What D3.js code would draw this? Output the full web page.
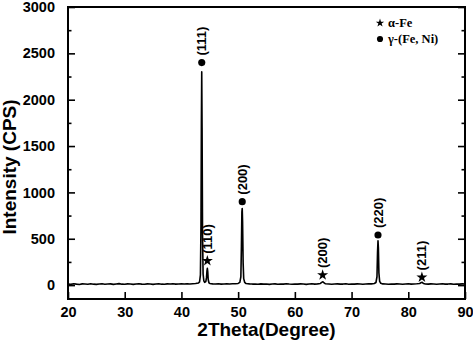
<!DOCTYPE html>
<html><head><meta charset="utf-8">
<script src="https://cdn.jsdelivr.net/npm/d3@7"></script>
<style>body{margin:0;background:#fff;}svg{display:block;}</style>
</head><body>
<svg id="c" width="473" height="353"></svg>
<script>
const twoTheta = [20,20.5,21,21.5,22,22.5,23,23.5,24,24.5,25,25.5,26,26.5,27,27.5,28,28.5,29,29.5,30,30.5,31,31.5,32,32.5,33,33.5,34,34.5,35,35.5,36,36.5,37,37.5,38,38.5,39,39.5,40,40.5,41,41.5,42,42.5,43,43.2,43.35,43.45,43.52,43.58,43.64,43.72,43.82,43.95,44.1,44.3,44.42,44.5,44.57,44.64,44.72,44.85,45,45.5,46,46.5,47,47.5,48,48.5,49,49.5,50,50.3,50.48,50.58,50.66,50.72,50.78,50.88,50.98,51.15,51.4,52,52.5,53,53.5,54,54.5,55,55.5,56,56.5,57,57.5,58,58.5,59,59.5,60,60.5,61,61.5,62,62.5,63,63.5,64,64.5,64.8,64.95,65.1,65.4,66,66.5,67,67.5,68,68.5,69,69.5,70,70.5,71,71.5,72,72.5,73,73.5,74,74.3,74.48,74.58,74.66,74.73,74.82,74.95,75.15,75.5,76,76.5,77,77.5,78,78.5,79,79.5,80,80.5,81,81.5,82,82.3,82.45,82.7,83,83.5,84,84.5,85,85.5,86,86.5,87,87.5,88,88.5,89,89.5,90];
const intensity = [12,8,14,10,7,13,11,9,15,10,8,12,14,9,11,13,8,12,16,10,9,13,11,8,12,14,10,9,13,11,8,12,15,10,9,13,11,14,10,12,13,11,14,12,15,17,22,35,110,650,1750,2300,1700,560,120,45,30,38,80,150,180,145,60,25,18,13,11,14,10,12,13,11,14,15,18,30,90,420,790,827,690,240,70,30,17,13,11,12,9,13,10,12,8,11,13,9,12,10,14,11,9,12,10,13,11,8,12,14,10,13,18,32,36,26,14,11,9,12,13,10,11,14,9,12,10,13,11,9,12,14,13,17,28,90,360,478,400,130,40,20,13,11,9,12,10,13,11,9,12,14,10,12,14,18,28,30,17,12,10,13,11,9,12,14,10,11,13,9,12,10,13,11];

const peakTheta = [43.58, 44.57, 50.72, 64.9, 74.66, 82.4];
const peakMarkY = [2400, 262, 900, 108, 540, 83];
const peakLabel = ["(111)", "(110)", "(200)", "(200)", "(220)", "(211)"];
const peakPhase = ["gamma", "alpha", "gamma", "alpha", "gamma", "alpha"];

const xTicks = [20,30,40,50,60,70,80,90];
const yTicks = [0,500,1000,1500,2000,2500,3000];
const yMinorTicks = [250,750,1250,1750,2250,2750];
const legendLabels = ["α-Fe", "γ-(Fe, Ni)"];
const legendPhases = ["alpha", "gamma"];

const svg = d3.select("#c");
const L = 68, R = 465, T = 7, B = 299;
const x = d3.scaleLinear().domain([20, 90]).range([L, R]);
const y = d3.scaleLinear().domain([-150, 3000]).range([B, T]);
const sans = "'Liberation Sans', Arial, Helvetica, sans-serif";
const serif = "'Liberation Serif', 'Times New Roman', serif";

// data line
const pts = twoTheta.map((t, i) => [t, intensity[i]]);
svg.append("path").datum(pts)
  .attr("fill", "none").attr("stroke", "#000").attr("stroke-width", 1.6)
  .attr("stroke-linejoin", "round")
  .attr("d", d3.line().x(d => x(d[0])).y(d => y(d[1])));

// frame
svg.append("rect").attr("x", L).attr("y", T).attr("width", R - L).attr("height", B - T)
  .attr("fill", "none").attr("stroke", "#000").attr("stroke-width", 2);

// axes ticks
const gx = svg.append("g").attr("transform", `translate(0,${B})`)
  .call(d3.axisBottom(x).tickValues(xTicks).tickSizeInner(-7).tickSizeOuter(0).tickPadding(9).tickFormat(d3.format("d")));
gx.select(".domain").remove();
gx.selectAll("line").attr("stroke-width", 1.6);
gx.selectAll("text").attr("font-family", sans).attr("font-weight", "bold").attr("font-size", 14.5).attr("fill", "#000").attr("dy", "0.71em").attr("y", 8);

const gy = svg.append("g").attr("transform", `translate(${L},0)`)
  .call(d3.axisLeft(y).tickValues(yTicks).tickSizeInner(-7).tickSizeOuter(0).tickPadding(13).tickFormat(d3.format("d")));
gy.select(".domain").remove();
gy.selectAll("line").attr("stroke-width", 1.6);
gy.selectAll("text").attr("font-family", sans).attr("font-weight", "bold").attr("font-size", 14.5).attr("fill", "#000");

const gym = svg.append("g").attr("transform", `translate(${L},0)`)
  .call(d3.axisLeft(y).tickValues(yMinorTicks).tickSizeInner(-3.5).tickSizeOuter(0).tickFormat(""));
gym.select(".domain").remove();
gym.selectAll("line").attr("stroke-width", 1.6);

const gr = svg.append("g").attr("transform", `translate(${R},0)`)
  .call(d3.axisRight(y).tickValues(yTicks).tickSizeInner(-7).tickSizeOuter(0).tickFormat(""));
gr.select(".domain").remove();
gr.selectAll("line").attr("stroke-width", 1.6);
const grm = svg.append("g").attr("transform", `translate(${R},0)`)
  .call(d3.axisRight(y).tickValues(yMinorTicks).tickSizeInner(-3.5).tickSizeOuter(0).tickFormat(""));
grm.select(".domain").remove();
grm.selectAll("line").attr("stroke-width", 1.6);

// titles
svg.append("text").attr("x", (L + R) / 2).attr("y", 336).attr("text-anchor", "middle")
  .attr("font-family", sans).attr("font-weight", "bold").attr("font-size", 19).text("2Theta(Degree)");
svg.append("text").attr("transform", "translate(16,167) rotate(-90)").attr("text-anchor", "middle")
  .attr("font-family", sans).attr("font-weight", "bold").attr("font-size", 19).text("Intensity (CPS)");

// markers
const sym = p => p === "alpha" ? d3.symbol(d3.symbolStar, 38)() : d3.symbol(d3.symbolCircle, 40)();
peakTheta.forEach((t, i) => {
  const px = x(t), py = y(peakMarkY[i]);
  svg.append("path").attr("d", sym(peakPhase[i])).attr("transform", `translate(${px},${py})`).attr("fill", "#000");
  svg.append("text").attr("transform", `translate(${px + 4.5},${py - 7}) rotate(-90)`)
    .attr("font-family", sans).attr("font-weight", "bold").attr("font-size", 13).text(peakLabel[i]);
});

// legend
legendLabels.forEach((lab, i) => {
  const ly = 23 + i * 16;
  svg.append("path").attr("d", legendPhases[i] === "alpha" ? d3.symbol(d3.symbolStar, 22)() : d3.symbol(d3.symbolCircle, 30)())
    .attr("transform", `translate(380,${ly})`).attr("fill", "#000");
  svg.append("text").attr("x", 388).attr("y", ly + 4).attr("font-family", serif).attr("font-weight", "bold")
    .attr("font-size", 12.5).text(lab);
});
</script>
</body></html>
